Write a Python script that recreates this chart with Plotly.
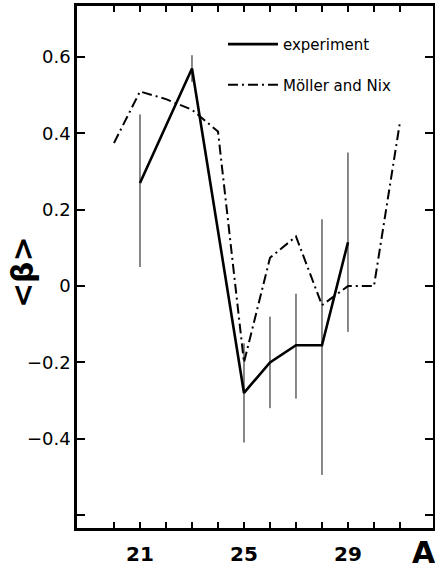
import plotly.graph_objects as go

# Experiment data
exp_A = [21, 23, 25, 26, 27, 28, 29]
exp_beta = [0.27, 0.57, -0.28, -0.20, -0.155, -0.155, 0.115]
exp_err_plus = [0.18, 0.035, 0.13, 0.12, 0.135, 0.33, 0.235]
exp_err_minus = [0.22, 0.035, 0.13, 0.12, 0.14, 0.34, 0.235]

# Möller and Nix
mn_A = [20, 21, 22, 23, 24, 25, 26, 27, 28, 29, 30, 31]
mn_beta = [0.375, 0.51, 0.49, 0.462, 0.405, -0.20, 0.074, 0.13, -0.05, 0.0, 0.0, 0.43]

# Tick definitions
x_tickvals = list(range(20, 32))
x_ticktext = ["" if v not in (21, 25, 29) else "<b>%d</b>" % v for v in x_tickvals]
y_tickvals = [0.6, 0.4, 0.2, 0.0, -0.2, -0.4, -0.6]
y_ticktext = ["0.6", "0.4", "0.2", "0", "\u22120.2", "\u22120.4", ""]

fig = go.Figure()
fig.add_trace(go.Scatter(
    x=exp_A, y=exp_beta, mode="lines", name="experiment",
    line=dict(color="black", width=2.6),
    error_y=dict(type="data", symmetric=False, array=exp_err_plus,
                 arrayminus=exp_err_minus, color="#111111", thickness=1, width=0),
    legendgroup="a",
))
fig.add_trace(go.Scatter(
    x=mn_A, y=mn_beta, mode="lines", name="Möller and Nix",
    line=dict(color="black", width=2, dash="10px,4px,2px,4px"),
    legendgroup="b",
))

axis_common = dict(
    showgrid=False, zeroline=False, showline=True, linecolor="black",
    linewidth=2.5, mirror="allticks", ticks="inside", tickcolor="black",
    tickwidth=2, automargin=False,
)
fig.update_xaxes(range=[18.577, 32.27], tickvals=x_tickvals, ticktext=x_ticktext,
                 ticklen=6, ticklabelstandoff=6,
                 tickfont=dict(family="DejaVu Sans", size=20, color="black"),
                 **axis_common)
fig.update_yaxes(range=[-0.634, 0.734], tickvals=y_tickvals, ticktext=y_ticktext,
                 ticklen=8, tickfont=dict(family="DejaVu Sans", size=18, color="black"),
                 **axis_common)

fig.add_annotation(text="<b>A</b>", xref="paper", yref="paper", x=0.975, y=-0.046,
                   xanchor="center", yanchor="middle", showarrow=False,
                   font=dict(family="DejaVu Sans", size=30, color="black"))
fig.add_annotation(text="<b>&lt;β&gt;</b>", xref="paper", yref="paper", x=-0.155, y=0.49,
                   xanchor="center", yanchor="middle", showarrow=False, textangle=-90,
                   font=dict(family="DejaVu Sans", size=30, color="black"))

fig.update_layout(
    width=435, height=571,
    margin=dict(l=77, r=2, t=6, b=43, autoexpand=False),
    paper_bgcolor="white", plot_bgcolor="white",
    showlegend=True,
    legend=dict(x=0.41, y=0.958, xanchor="left", yanchor="top", itemwidth=50,
                bgcolor="rgba(0,0,0,0)", tracegroupgap=18,
                font=dict(family="DejaVu Sans", size=15, color="black")),
)

fig.write_html("out.html", config={"displayModeBar": False},
               post_script="document.body.style.margin='0';document.body.style.overflow='hidden';")
